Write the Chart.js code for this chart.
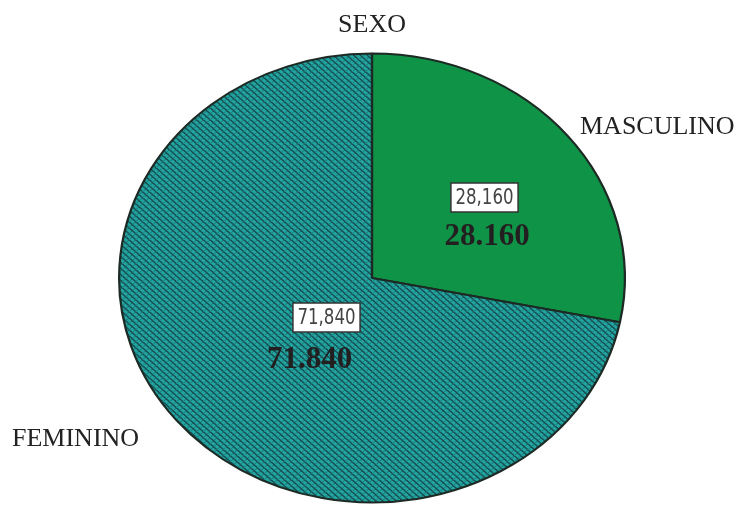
<!DOCTYPE html>
<html>
<head>
<meta charset="utf-8">
<script src="https://cdn.jsdelivr.net/npm/chart.js@4"></script>
<style>
  html, body { margin: 0; padding: 0; background: #fff; }
  #wrap { width: 739px; height: 506px; }
</style>
</head>
<body>
<div id="wrap"><canvas id="sexoChart" width="739" height="506"></canvas></div>
<script>
const categories = ["MASCULINO", "FEMININO"];
const values = [28.160, 71.840];
const boxLabels = ["28,160", "71,840"];
const boldLabels = ["28.160", "71.840"];

// hatched teal fill for FEMININO
function hatch() {
    const c = document.createElement('canvas');
    c.width = 6; c.height = 6;
    const g = c.getContext('2d');
    g.fillStyle = '#22a5a1';
    g.fillRect(0, 0, 6, 6);
    g.fillStyle = '#175356';
    for (let i = 0; i < 6; i++) {
        g.fillRect(i, i, 2, 1);
    }
    g.fillStyle = 'rgba(23,83,86,0.55)';
    for (let i = 0; i < 6; i++) {
        g.fillRect(5 - i, i, 1, 1);
    }
    return g.createPattern(c, 'repeat');
}

const stretchX = 254 / 225.5;

// SPSS pie is an ellipse: stretch the arcs horizontally around the centre
const ellipse = {
    id: 'ellipse',
    beforeDatasetsDraw(chart) {
        const a = chart.getDatasetMeta(0).data[0];
        const ctx = chart.ctx;
        ctx.save();
        ctx.translate(a.x, a.y);
        ctx.scale(stretchX, 1);
        ctx.translate(-a.x, -a.y);
    },
    afterDatasetsDraw(chart) {
        chart.ctx.restore();
    }
};

const labelsPlugin = {
    id: 'sliceLabels',
    afterDraw(chart) {
        const ctx = chart.ctx;
        const a = chart.getDatasetMeta(0).data[0];
        const cx = a.x, cy = a.y;
        ctx.save();
        ctx.fillStyle = '#222';
        ctx.font = '26px "Liberation Serif", "Times New Roman", serif';
        ctx.textBaseline = 'alphabetic';
        ctx.textAlign = 'left';
        ctx.fillText(categories[0], cx + 208, cy - 144.5);
        ctx.fillText(categories[1], cx - 360, cy + 167.5);

        const boxPos = [[112.5, -80.5], [-45.5, 39.5]];
        const boldPos = [[115, -41.5], [-62.5, 81.5]];
        const narrow = 0.84;
        for (let i = 0; i < values.length; i++) {
            ctx.font = '22px "Liberation Sans Narrow", "DejaVu Sans Condensed", "Liberation Sans", sans-serif';
            const tw = ctx.measureText(boxLabels[i]).width * narrow;
            const w = tw + 9;
            const h = 29;
            const bx = cx + boxPos[i][0], by = cy + boxPos[i][1];
            ctx.fillStyle = '#fff';
            ctx.fillRect(bx - w / 2, by - h / 2, w, h);
            ctx.strokeStyle = '#333';
            ctx.lineWidth = 1.5;
            ctx.strokeRect(bx - w / 2, by - h / 2, w, h);
            ctx.save();
            ctx.translate(bx, by + 1);
            ctx.scale(narrow, 1);
            ctx.fillStyle = '#444';
            ctx.textAlign = 'center';
            ctx.textBaseline = 'middle';
            ctx.fillText(boxLabels[i], 0, 0);
            ctx.restore();

            ctx.font = 'bold 31px "Liberation Serif", "Times New Roman", serif';
            ctx.fillStyle = '#231f20';
            ctx.textAlign = 'center';
            ctx.textBaseline = 'middle';
            ctx.fillText(boldLabels[i], cx + boldPos[i][0], cy + boldPos[i][1]);
        }
        ctx.restore();
    }
};

new Chart(document.getElementById('sexoChart'), {
    type: 'pie',
    data: {
        labels: categories,
        datasets: [{
            data: values,
            backgroundColor: ['#0f9347', hatch()],
            borderColor: '#1d2a24',
            borderWidth: 2
        }]
    },
    options: {
        responsive: false,
        animation: false,
        layout: {
            padding: { top: 0, bottom: 2, left: 146.5, right: 141.5 }
        },
        plugins: {
            legend: { display: false },
            tooltip: { enabled: false },
            title: {
                display: true,
                text: 'SEXO',
                color: '#222',
                font: { family: '"Liberation Serif", "Times New Roman", serif', size: 26, weight: 'normal' },
                padding: { top: 9.4, bottom: 11.4 }
            }
        }
    },
    plugins: [ellipse, labelsPlugin]
});
</script>
</body>
</html>
